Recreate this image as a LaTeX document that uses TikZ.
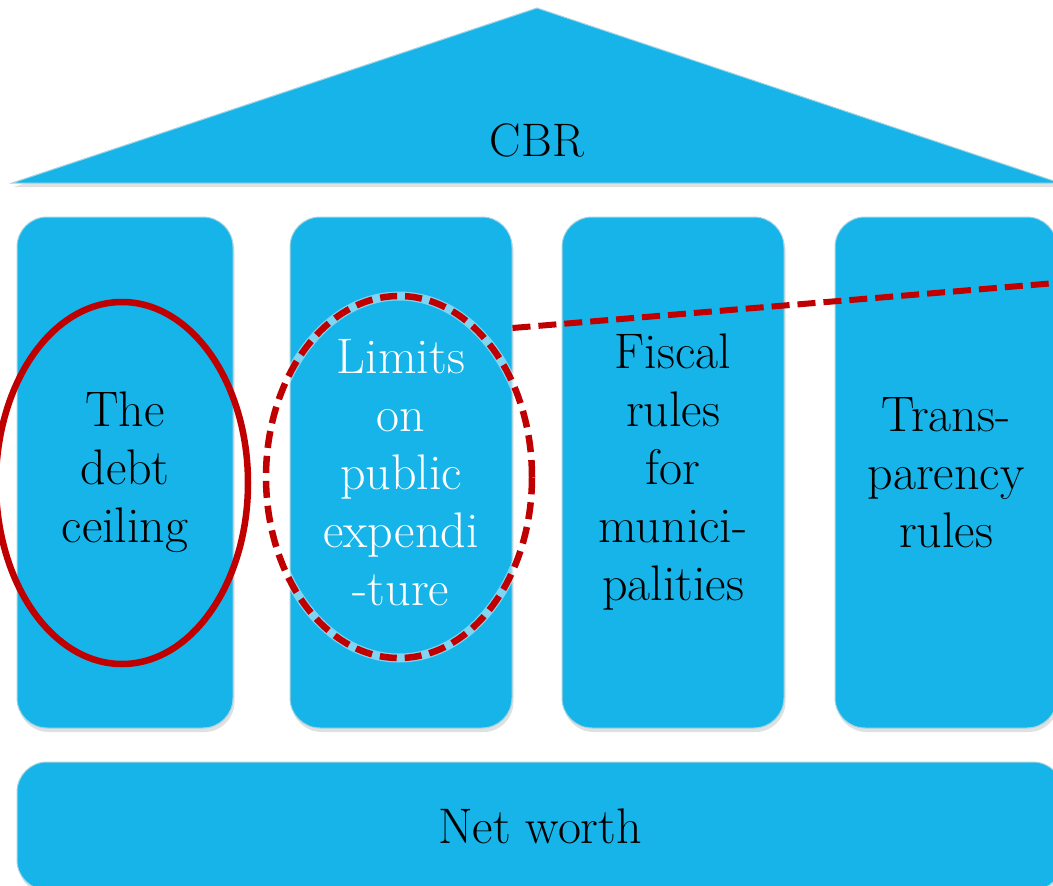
\documentclass[tikz,border=0pt]{standalone}
\usepackage{fontspec}
\usetikzlibrary{shapes.geometric,shadows}
\definecolor{pillarblue}{RGB}{22,180,233}
\definecolor{edgeblue}{RGB}{165,212,225}
\definecolor{ringred}{RGB}{192,0,0}
\tikzset{
  block/.style={fill=pillarblue, draw=edgeblue, line width=1pt, rounded corners=30pt,
    inner sep=0pt, align=center, font=\fontsize{50}{58}\selectfont,
    drop shadow={shadow xshift=1.5pt, shadow yshift=-4pt, opacity=0.12, fill=black}},
  pillar/.style={block, minimum width=222pt, minimum height=511pt, text width=215pt},
  ring/.style={draw=ringred, line width=6.5pt, ellipse, inner sep=0pt},
  redline/.style={draw=ringred, line width=6pt, dash pattern=on 18pt off 8pt},
}
\begin{document}
\begin{tikzpicture}[x=1pt,y=-1pt]
\useasboundingbox (0,0) rectangle (1053,886);
% roof
\draw[fill=pillarblue, draw=edgeblue, line width=1pt,
  drop shadow={shadow xshift=1.5pt, shadow yshift=-4pt, opacity=0.12, fill=black}]
  (12,183) -- (537,8) -- (1060,183) -- cycle;
\node[font=\fontsize{47}{58}\selectfont] (cbr) at (537,140) {CBR};
% pillars
\node[pillar, minimum width=216pt] (p1) at (125,472.5) {The\\debt\\ceiling};
\node[pillar, text=white] (p2) at (401,472.5) {Limits\\on\\public\\expendi\\-ture};
\node[pillar] (p3) at (673,472.5) {Fiscal\\rules\\for\\munici-\\palities};
\node[pillar] (p4) at (946,472.5) {Trans-\\parency\\rules};
% base
\node[block, minimum width=1046pt, minimum height=128pt] (base) at (540,826) {Net worth};
% rings
\node[ring, minimum width=252pt, minimum height=362pt] (r1) at (122,483) {};
\node[draw=white, line width=9pt, opacity=0.45, ellipse, inner sep=0pt,
  minimum width=266pt, minimum height=362pt] (r2glow) at (399,477) {};
\node[ring, dash pattern=on 17pt off 8pt, minimum width=266pt, minimum height=362pt] (r2) at (399,477) {};
% dashed link
\coordinate (lstart) at (p2.east |- 0,328);
\coordinate (lend) at (1056,283);
\draw[redline] (lstart) -- (lend);
\end{tikzpicture}
\end{document}
